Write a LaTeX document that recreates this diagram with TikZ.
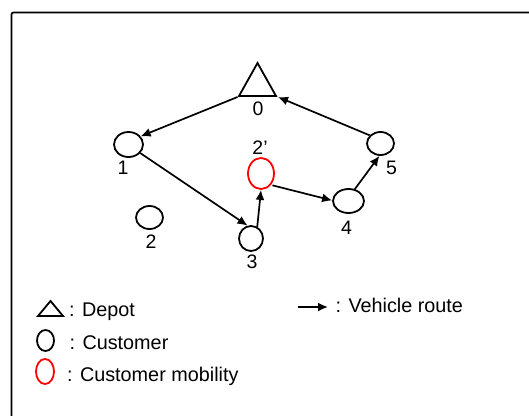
\documentclass[tikz,border=0pt]{standalone}
\usepackage{fontspec}
\setmainfont{Liberation Sans}
\usetikzlibrary{shapes.geometric,arrows.meta}
\begin{document}
\begin{tikzpicture}[x=1pt,y=-1pt,
  cust/.style={ellipse,draw,line width=1.8pt,inner sep=0pt},
  mob/.style={cust,draw=red},
  lbl/.style={inner sep=0pt,font=\fontsize{19.5}{22}\selectfont},
  leg/.style={inner sep=0pt,anchor=base west,font=\fontsize{19.8}{22}\selectfont},
  route/.style={line width=1.7pt,-{Latex[length=10pt,width=9pt]}},
  tri/.style={line width=1.8pt,line join=miter}]
\useasboundingbox (0,0) rectangle (529,415);
% frame
\draw[line width=1.7pt,rounded corners=2pt] (11.5,420) |- (535,12.5);
% depot
\coordinate (d0l) at (239,96);
\coordinate (d0r) at (276,96);
\coordinate (d0a) at (257.5,63);
\draw[tri] (d0l) -- (d0a) -- (d0r) -- cycle;
\node[lbl] (l0) at (258,108.5) {0};
% customers
\node[cust,minimum width=29pt,minimum height=25pt] (n1) at (128.5,144.5) {};
\node[cust,minimum width=27pt,minimum height=23pt] (n2) at (149.5,217.5) {};
\node[cust,minimum width=24pt,minimum height=25pt] (n3) at (251,238.5) {};
\node[mob,minimum width=26pt,minimum height=31pt] (n2p) at (261,173.5) {};
\node[cust,minimum width=31pt,minimum height=24pt] (n4) at (348.5,201) {};
\node[cust,minimum width=27pt,minimum height=23pt] (n5) at (380.5,143.5) {};
\node[lbl] (l1) at (123,167.5) {1};
\node[lbl] (l2) at (151,241.5) {2};
\node[lbl] (l3) at (252,262) {3};
\node[lbl] (l2p) at (260,148) {2'};
\node[lbl] (l4) at (346.5,227.5) {4};
\node[lbl] (l5) at (391.5,167.5) {5};
% routes
\draw[route] (d0l) ++(-1.5,1) coordinate (s01) -- (n1.34);
\draw[route] (n1.-36) -- (n3.105);
\draw[route] (n3.62) -- (n2p.south);
\draw[route] ([shift={(1pt,-1pt)}]n2p.-46) -- (n4.178);
\draw[route] (n4.62) -- (n5.265);
\draw[route] (n5.143) -- ([xshift=2pt,yshift=-1pt]d0r);
% legend
\coordinate (lt1) at (38,316);
\coordinate (lt2) at (63,316);
\coordinate (lt3) at (50.5,301);
\draw[tri] (lt1) -- (lt3) -- (lt2) -- cycle;
\node[leg] (tdep) at (69,316) {: Depot};
\node[cust,minimum width=17pt,minimum height=21pt] (lc) at (45.5,340.5) {};
\node[leg] (tcus) at (69.5,349) {: Customer};
\node[mob,minimum width=18pt,minimum height=25pt] (lm) at (45,371.5) {};
\node[leg] (tmob) at (67,381.5) {: Customer mobility};
\coordinate (la1) at (298,307);
\coordinate (la2) at (328,307);
\draw[route] (la1) -- (la2);
\node[leg] (tveh) at (335.5,312) {: Vehicle route};
\end{tikzpicture}
\end{document}
